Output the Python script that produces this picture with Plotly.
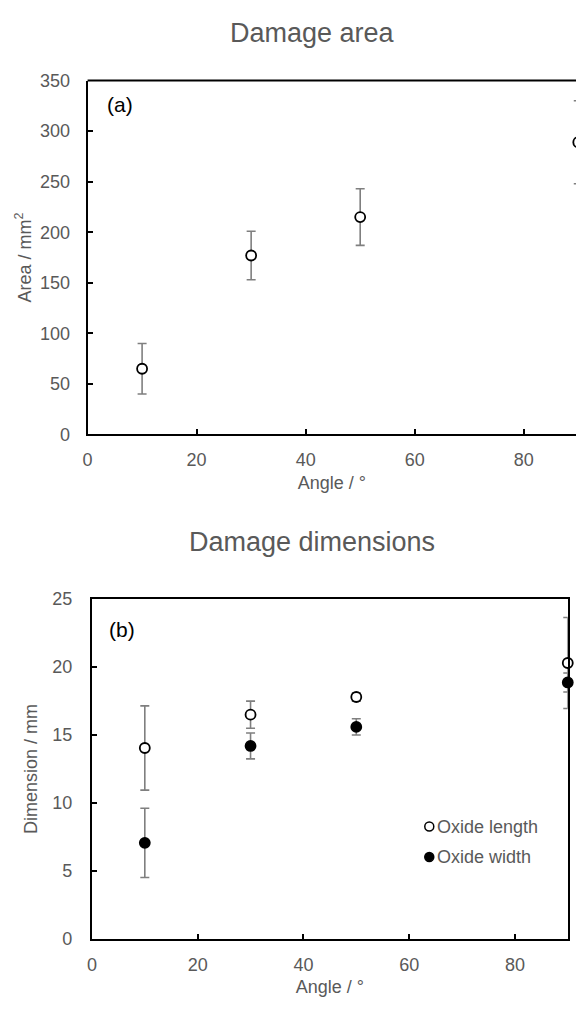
import plotly.graph_objects as go

# ---- data ----
angle = [10, 30, 50, 90]
area = [65, 177, 215, 289]
area_err = [25, 24, 28, 41]

oxide_length = [14.05, 16.5, 17.8, 20.3]
oxide_length_err = [3.1, 1.0, 0.3, 3.35]
oxide_width = [7.07, 14.2, 15.6, 18.87]
oxide_width_err = [2.55, 0.95, 0.6, 0.7]

x_ticks = [0, 20, 40, 60, 80]
area_ticks = [0, 50, 100, 150, 200, 250, 300, 350]
dim_ticks = [0, 5, 10, 15, 20, 25]
series_names = ["Oxide length", "Oxide width"]

W, H = 576, 1013
FONT = "Arial, Liberation Sans, sans-serif"
GREY = "#595959"
ERR = "#7f7f7f"


def px(x):
    return x / W


def py(y):
    return 1 - y / H


fig = go.Figure()

err_style = dict(type="data", color=ERR, thickness=1.6, width=4.5, visible=True)

fig.add_trace(go.Scatter(
    x=angle, y=area, mode="markers", xaxis="x", yaxis="y", showlegend=False,
    error_y=dict(array=area_err, **err_style), cliponaxis=True,
    marker=dict(symbol="circle", size=10, color="white", line=dict(color="black", width=1.8)),
))

fig.add_trace(go.Scatter(
    x=angle, y=oxide_length, mode="markers", xaxis="x2", yaxis="y2", name=series_names[0],
    error_y=dict(array=oxide_length_err, **err_style), cliponaxis=False, showlegend=False,
    marker=dict(symbol="circle", size=10, color="white", line=dict(color="black", width=1.8)),
))
fig.add_trace(go.Scatter(
    x=angle, y=oxide_width, mode="markers", xaxis="x2", yaxis="y2", name=series_names[1],
    error_y=dict(array=oxide_width_err, **err_style), cliponaxis=False, showlegend=False,
    marker=dict(symbol="circle", size=10, color="black", line=dict(color="black", width=1.8)),
))

axis_common = dict(
    showgrid=False, zeroline=False, showline=True, linecolor="black", linewidth=2,
    ticks="inside", ticklen=5, tickwidth=1.5, tickcolor="black",
    tickfont=dict(family=FONT, size=18, color=GREY),
    title_font=dict(family=FONT, size=18, color=GREY),
)

# panel a : x scale 5.5 px/unit from 83.3 px; clipped by window edge
ax_left = 83.3
x_max_a = (W - ax_left) / 5.5

# manual legend (marker + text), placed like the reference
legend_rows = [(833, "white"), (864, "black")]
legend_shapes = []
legend_annots = []
for (ly, fill), name in zip(legend_rows, series_names):
    legend_shapes.append(dict(
        type="circle", xref="paper", yref="paper", xsizemode="pixel", ysizemode="pixel",
        xanchor=px(428), yanchor=py(ly), x0=-4.5, x1=4.5, y0=-4.5, y1=4.5,
        fillcolor=fill, line=dict(color="black", width=1.5), layer="above"))
    legend_annots.append(dict(
        text=name, x=px(434), y=py(ly), xref="paper", yref="paper", showarrow=False,
        xanchor="left", yanchor="middle", font=dict(family=FONT, size=18, color=GREY)))

fig.update_layout(
    width=W, height=H, margin=dict(l=0, r=0, t=0, b=0),
    paper_bgcolor="white", plot_bgcolor="white", showlegend=False,
    font=dict(family=FONT, color=GREY),
    xaxis=dict(domain=[px(ax_left), 1], range=[0, x_max_a], tickvals=x_ticks,
               anchor="y", mirror=False, ticklabelstandoff=8,
               title=dict(text="Angle / °", standoff=7), **axis_common),
    yaxis=dict(domain=[py(433), py(72)], range=[0, 350], tickvals=area_ticks,
               anchor="x", mirror=False, ticklabelstandoff=12,
               title=dict(text="Area / mm<sup>2</sup>", standoff=4), **axis_common),
    xaxis2=dict(domain=[px(87.7), px(567.7)], range=[0, 90], tickvals=x_ticks,
                anchor="y2", mirror=True, ticklabelstandoff=8,
                title=dict(text="Angle / °", standoff=7), **axis_common),
    yaxis2=dict(domain=[py(947.7), py(601)], range=[0, 25], tickvals=dim_ticks,
                anchor="x2", mirror=True, ticklabelstandoff=14,
                title=dict(text="Dimension / mm", standoff=10), **axis_common),
    shapes=[
        # top border of panel a (right side is outside the window)
        dict(type="line", xref="paper", yref="paper", x0=px(ax_left), x1=1,
             y0=py(72), y1=py(72), line=dict(color="black", width=2)),
    ] + legend_shapes,
    annotations=[
        dict(text="Damage area", x=px(310), y=py(23), xref="paper", yref="paper",
             showarrow=False, xanchor="center", yanchor="middle",
             font=dict(family=FONT, size=27, color=GREY)),
        dict(text="Damage dimensions", x=px(310), y=py(543), xref="paper", yref="paper",
             showarrow=False, xanchor="center", yanchor="middle",
             font=dict(family=FONT, size=27, color=GREY)),
        dict(text="(a)", x=px(101), y=py(96), xref="paper", yref="paper",
             showarrow=False, xanchor="left", yanchor="middle",
             font=dict(family=FONT, size=21, color="black")),
        dict(text="(b)", x=px(103), y=py(632), xref="paper", yref="paper",
             showarrow=False, xanchor="left", yanchor="middle",
             font=dict(family=FONT, size=21, color="black")),
    ] + legend_annots,
)

fig.write_html("out.html")
